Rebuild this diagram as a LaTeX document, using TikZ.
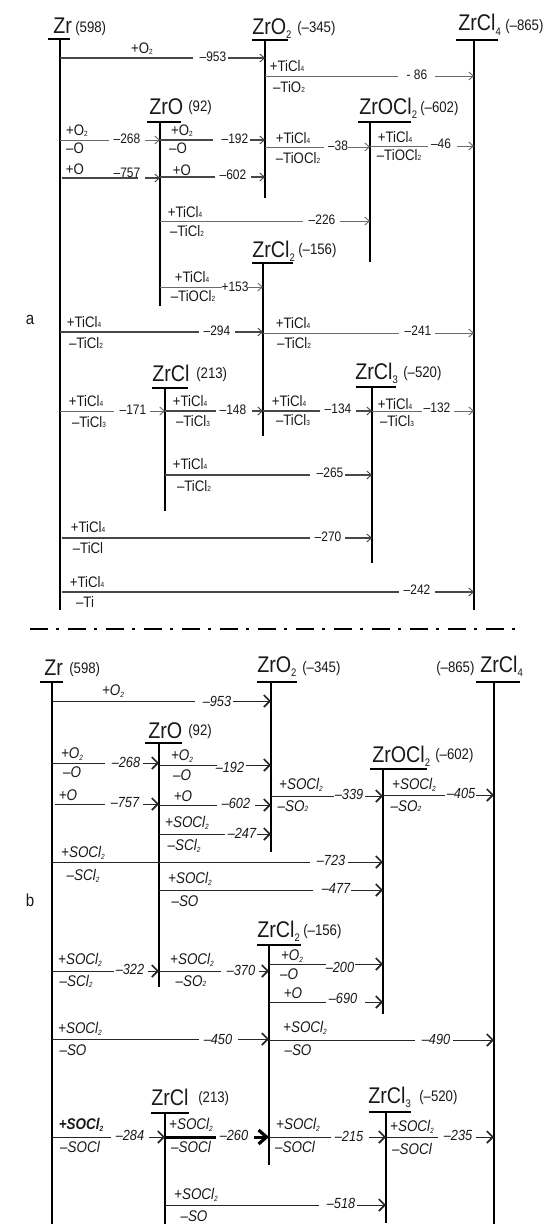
\documentclass[tikz,border=0pt]{standalone}
\usepackage{fontspec}
\setmainfont[FakeStretch=0.87]{Liberation Sans}
\usetikzlibrary{arrows.meta,calc}
\newcount\lblc
\newcommand{\fs}[1]{\fontsize{#1}{#1}\selectfont}
% subscripts
\newcommand{\bsub}[1]{\raisebox{-3.6pt}{\fs{8.2}#1}}
\newcommand{\ls}[1]{\raisebox{-2pt}{\fs{5.6}#1}}
\newcommand{\lz}[1]{\raisebox{-.6pt}{\fs{5.6}#1}}
\tikzset{
  every node/.style={inner sep=0pt,text=black!90},
  species/.style={anchor=base west,font=\fs{17}},
  energy/.style={anchor=base west,font=\fs{11.4}},
  levelbar/.style={line width=1.6pt,black},
  levelstem/.style={line width=1.6pt,black},
  sepline/.style={line width=1.5pt,black,dash pattern=on 13.5pt off 6pt on 2.6pt off 6.4pt},
  panelmark/.style={font=\fs{13}},
}
% level: name, bar left, bar right, bar y, stem x, stem bottom
\newcommand{\lvl}[6]{%
  \coordinate (#1) at (#5,#4);
  \coordinate (#1L) at (#2,#4);
  \coordinate (#1R) at (#3,#4);
  \coordinate (#1E) at (#5,#6);
  \draw[levelbar] (#1L) -- (#1R);
  \draw[levelstem] (#1) -- (#1E);
}
% species formula and its energy
\newcommand{\spc}[7]{%
  \node[species] (#1t) at (#2,#3) {#4};
  \node[energy] (#1v) at (#5,#6) {#7};
}
% connector: [opts] from, to, start offset, y, gap start, gap end, number x, number y, number
\newcommand{\rx}[9][]{%
  \global\advance\lblc by 1
  \coordinate (R\the\lblc a) at ($(#2 |- 0,#5)+(#4,0)$);
  \coordinate (R\the\lblc b) at (#3 |- 0,#5);
  \coordinate (R\the\lblc g) at (#6,#5);
  \coordinate (R\the\lblc h) at (#7,#5);
  \rxd{#1}{#8}{#9}%
}
\newcommand{\rxd}[4]{%
  \draw[rxline,#1,-] (R\the\lblc a) -- (R\the\lblc g);
  \draw[rxline,rxhead,#1] (R\the\lblc h) -- (R\the\lblc b);
  \node[numtxt] (N\the\lblc) at (#2,#3) {#4};
}
% reactant/product label
\newcommand{\lab}[3]{%
  \global\advance\lblc by 1
  \node[lbltxt] (T\the\lblc) at (#1,#2) {#3};
}
\begin{document}
\begin{tikzpicture}[x=0.75pt,y=-0.75pt]
\useasboundingbox (0,0) rectangle (546,1224);
\fill[white] (0,0) rectangle (546,1224);
% ---------------- panel a
\begin{scope}
\tikzset{
  rxline/.style={line width=.82pt,black!72},
  rxhead/.style={-{Straight Barb[length=3.4pt,width=6pt,line width=.7pt]}},
  pale/.style={line width=.68pt,black!58},
  strong/.style={line width=1.1pt},
  numtxt/.style={font=\fs{10.3}},
  lbltxt/.style={font=\fs{11.4}},
}
\node[panelmark] (marka) at (30,320) {a};
\lvl{aZr}{48}{70}{39}{60}{610}
\lvl{aZrOb}{252}{288}{40}{265}{198}
\lvl{aZrClf}{456}{498}{40}{474}{610}
\lvl{aZrO}{147}{181}{122}{160}{306}
\lvl{aZrOCl}{358}{411}{122}{370}{262}
\lvl{aZrClb}{252}{293}{263}{263}{436}
\lvl{aZrCl}{152}{188}{388}{165}{511}
\lvl{aZrClc}{356}{396}{387}{372}{563}
\spc{aSa}{53}{33}{Zr}{75}{32}{(598)}
\spc{aSb}{252}{34}{ZrO\bsub{2}}{297}{32}{(–345)}
\spc{aSc}{458}{31}{ZrCl\bsub{4}}{505}{31}{(–865)}
\spc{aSd}{149}{114}{ZrO}{188}{111}{(92)}
\spc{aSe}{359}{114}{ZrOCl\bsub{2}}{420}{112}{(–602)}
\spc{aSf}{252}{257}{ZrCl\bsub{2}}{298}{254}{(–156)}
\spc{aSg}{152}{381}{ZrCl}{196}{378}{(213)}
\spc{aSh}{355}{379}{ZrCl\bsub{3}}{403}{377}{(–520)}
\rx{aZr}{aZrOb}{0}{58}{193}{228}{213}{57}{–953}
\lab{142}{49}{+O\lz{2}}
\rx[pale]{aZrOb}{aZrClf}{0}{76}{398}{435}{417}{75}{- 86}
\lab{287}{66}{+TiCl\lz{4}}\lab{289}{87}{–TiO\lz{2}}
\rx[pale]{aZr}{aZrO}{0}{140}{109}{145}{127}{139}{–268}
\lab{77}{131}{+O\lz{2}}\lab{75}{148}{–O}
\rx[strong]{aZrO}{aZrOb}{0}{140}{213}{250}{235}{139}{–192}
\lab{182}{131}{+O\lz{2}}\lab{178}{148}{–O}
\rx[strong]{aZr}{aZrO}{2}{178}{138}{145}{127}{173}{–757}
\lab{75}{169}{+O}
\rx{aZrO}{aZrOb}{0}{177}{215}{251}{233}{175}{–602}
\lab{182}{170}{+O}
\rx[pale]{aZrOb}{aZrOCl}{0}{147}{324}{348}{338}{146}{–38}
\lab{293}{138}{+TiCl\lz{4}}\lab{298}{158}{–TiOCl\lz{2}}
\rx[pale]{aZrOCl}{aZrClf}{0}{146}{428}{457}{441}{144}{–46}
\lab{395}{137}{+TiCl\lz{4}}\lab{399}{155}{–TiOCl\lz{2}}
\rx[pale]{aZrO}{aZrOCl}{0}{221}{303}{340}{322}{220}{–226}
\lab{185}{212}{+TiCl\lz{4}}\lab{187}{231}{–TiCl\lz{2}}
\rx[pale]{aZrO}{aZrClb}{0}{287}{222}{248}{235}{287}{+153}
\lab{192}{277}{+TiCl\lz{4}}\lab{193}{296}{–TiOCl\lz{2}}
\rx{aZr}{aZrClb}{0}{332}{199}{235}{217}{331}{–294}
\lab{84}{322}{+TiCl\lz{4}}\lab{86}{343}{–TiCl\lz{2}}
\rx[pale]{aZrClb}{aZrClf}{0}{333}{399}{435}{418}{331}{–241}
\lab{293}{323}{+TiCl\lz{4}}\lab{294}{343}{–TiCl\lz{2}}
\rx[pale]{aZr}{aZrCl}{0}{411}{114}{150}{133}{410}{–171}
\lab{86}{401}{+TiCl\lz{4}}\lab{89}{422}{–TiCl\lz{3}}
\rx{aZrCl}{aZrClb}{0}{411}{216}{252}{233}{410}{–148}
\lab{190}{401}{+TiCl\lz{4}}\lab{193}{421}{–TiCl\lz{3}}
\rx{aZrClb}{aZrClc}{0}{411}{320}{356}{338}{409}{–134}
\lab{289}{401}{+TiCl\lz{4}}\lab{293}{420}{–TiCl\lz{3}}
\rx[pale]{aZrClc}{aZrClf}{0}{411}{422}{454}{437}{408}{–132}
\lab{395}{404}{+TiCl\lz{4}}\lab{397}{421}{–TiCl\lz{3}}
\rx{aZrCl}{aZrClc}{0}{475}{310}{345}{330}{473}{–265}
\lab{190}{464}{+TiCl\lz{4}}\lab{194}{486}{–TiCl\lz{2}}
\rx{aZr}{aZrClc}{2}{538}{310}{345}{328}{537}{–270}
\lab{88}{527}{+TiCl\lz{4}}\lab{88}{548}{–TiCl}
\rx{aZr}{aZrClf}{2}{592}{399}{435}{417}{590}{–242}
\lab{87}{582}{+TiCl\lz{4}}\lab{85}{602}{–Ti}
\end{scope}
% ---------------- separator
\coordinate (sepa) at (30,629);
\coordinate (sepb) at (516,629);
\draw[sepline] (sepa) -- (sepb);
% ---------------- panel b
\begin{scope}
\tikzset{
  rxline/.style={line width=.75pt,black!85},
  rxhead/.style={-{Straight Barb[length=4.5pt,width=9pt,line width=1.25pt]}},
  numtxt/.style={font=\fs{11}\itshape},
  lbltxt/.style={font=\fs{11.6}\itshape},
  heavy/.style={line width=2.25pt,black,-{Straight Barb[length=6pt,width=10.5pt,line width=2.4pt]}},
}
\node[panelmark] (markb) at (30,900) {b};
\lvl{bZr}{40}{63}{682}{52}{1224}
\lvl{bZrOb}{257}{297}{682}{271}{852}
\lvl{bZrClf}{476}{520}{682}{494}{1224}
\lvl{bZrO}{145}{182}{743}{159}{987}
\lvl{bZrOCl}{370}{427}{769}{383}{1014}
\lvl{bZrClb}{257}{301}{945}{269}{1165}
\lvl{bZrCl}{151}{189}{1113}{165}{1224}
\lvl{bZrClc}{369}{411}{1112}{386}{1223}
\spc{bSa}{44}{675}{Zr}{69}{673}{(598)}
\spc{bSb}{257}{672}{ZrO\bsub{2}}{302}{672}{(–345)}
\spc{bSc}{480}{672}{ZrCl\bsub{4}}{436}{672}{(–865)}
\spc{bSd}{148}{738}{ZrO}{188}{735}{(92)}
\spc{bSe}{372}{762}{ZrOCl\bsub{2}}{435}{759}{(–602)}
\spc{bSf}{257}{937}{ZrCl\bsub{2}}{303}{935}{(–156)}
\spc{bSg}{151}{1105}{ZrCl}{198}{1102}{(213)}
\spc{bSh}{368}{1103}{ZrCl\bsub{3}}{419}{1101}{(–520)}
\rx{bZr}{bZrOb}{0}{701}{195}{233}{217}{701}{–953}
\lab{113}{691}{+O\ls{2}}
\rx{bZr}{bZrO}{0}{763}{105}{143}{126}{762}{–268}
\lab{72}{754}{+O\ls{2}}\lab{72}{772}{–O}
\rx{bZrO}{bZrOb}{0}{765}{217}{246}{230}{767}{–192}
\lab{182}{756}{+O\ls{2}}\lab{182}{775}{–O}
\rx{bZr}{bZrO}{3}{804}{105}{143}{125}{803}{–757}
\lab{68}{795}{+O}
\rx{bZrO}{bZrOb}{0}{805}{217}{255}{236}{803}{–602}
\lab{183}{796}{+O}
\rx{bZrO}{bZrOb}{0}{834}{225}{257}{242}{833}{–247}
\lab{187}{823}{+SOCl\ls{2}}\lab{184}{846}{–SCl\ls{2}}
\rx{bZrOb}{bZrOCl}{0}{796}{334}{365}{349}{794}{–339}
\lab{301}{785}{+SOCl\ls{2}}\lab{293}{806}{–SO\lz{2}}
\rx{bZrOCl}{bZrClf}{0}{795}{445}{476}{461}{793}{–405}
\lab{414}{785}{+SOCl\ls{2}}\lab{406}{806}{–SO\lz{2}}
\rx{bZr}{bZrOCl}{0}{862}{310}{348}{331}{860}{–723}
\lab{83}{853}{+SOCl\ls{2}}\lab{83}{876}{–SCl\ls{2}}
\rx{bZrO}{bZrOCl}{0}{890}{313}{351}{336}{888}{–477}
\lab{190}{879}{+SOCl\ls{2}}\lab{185}{901}{–SO}
\rx{bZr}{bZrO}{0}{971}{114}{148}{130}{969}{–322}
\lab{80}{960}{+SOCl\ls{2}}\lab{76}{981}{–SCl\lz{2}}
\rx{bZrO}{bZrClb}{0}{971}{221}{259}{241}{970}{–370}
\lab{192}{960}{+SOCl\ls{2}}\lab{191}{981}{–SO\lz{2}}
\rx{bZrClb}{bZrOCl}{0}{964}{326}{355}{340}{967}{–200}
\lab{292}{956}{+O\ls{2}}\lab{289}{974}{–O}
\rx{bZrClb}{bZrOCl}{0}{1002}{326}{365}{343}{998}{–690}
\lab{293}{993}{+O}
\rx{bZr}{bZrClb}{0}{1039}{199}{238}{218}{1039}{–450}
\lab{80}{1029}{+SOCl\ls{2}}\lab{73}{1050}{–SO}
\rx{bZrClb}{bZrClf}{0}{1040}{415}{453}{436}{1039}{–490}
\lab{305}{1028}{+SOCl\ls{2}}\lab{298}{1050}{–SO}
\rx{bZr}{bZrCl}{0}{1137}{111}{149}{130}{1135}{–284}
\lab{81}{1125}{\bfseries +SOCl\ls{2}}\lab{80}{1147}{–SOCl}
\rx[heavy]{bZrCl}{bZrClb}{0}{1137}{216}{254}{234}{1135}{–260}
\lab{191}{1125}{+SOCl\ls{2}}\lab{191}{1147}{–SOCl}
\rx{bZrClb}{bZrClc}{0}{1137}{331}{369}{349}{1136}{–215}
\lab{298}{1125}{+SOCl\ls{2}}\lab{295}{1147}{–SOCl}
\rx{bZrClc}{bZrClf}{0}{1137}{438}{476}{458}{1135}{–235}
\lab{412}{1127}{+SOCl\ls{2}}\lab{412}{1149}{–SOCl}
\rx{bZrCl}{bZrClc}{0}{1205}{319}{357}{341}{1203}{–518}
\lab{196}{1195}{+SOCl\ls{2}}\lab{194}{1216}{–SO}
\end{scope}
\end{tikzpicture}
\end{document}
